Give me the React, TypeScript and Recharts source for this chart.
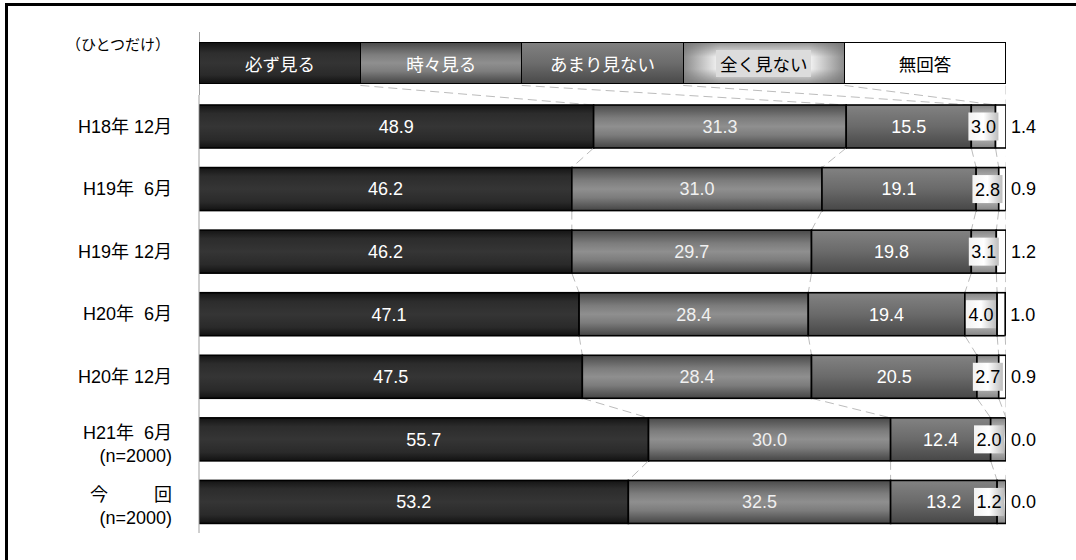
import React from 'react';
import { BarChart, Bar, XAxis, YAxis, Legend, LabelList } from 'recharts';

// rows (top to bottom)
const categories = ['H18年 12月', 'H19年  6月', 'H19年 12月', 'H20年  6月', 'H20年 12月', 'H21年  6月', '今　　  回'];
const subLabels = ['', '', '', '', '', '(n=2000)', '(n=2000)'];

const seriesNames = ['必ず見る', '時々見る', 'あまり見ない', '全く見ない', '無回答'];
const always = [48.9, 46.2, 46.2, 47.1, 47.5, 55.7, 53.2];
const sometimes = [31.3, 31.0, 29.7, 28.4, 28.4, 30.0, 32.5];
const rarely = [15.5, 19.1, 19.8, 19.4, 20.5, 12.4, 13.2];
const never = [3.0, 2.8, 3.1, 4.0, 2.7, 2.0, 1.2];
const noAnswer = [1.4, 0.9, 1.2, 1.0, 0.9, 0.0, 0.0];

const seriesValues = [always, sometimes, rarely, never, noAnswer];
const keys = ['s0', 's1', 's2', 's3', 's4'];

const data = categories.map((label, i) => {
  const row: any = { label };
  keys.forEach((k, s) => (row[k] = seriesValues[s][i]));
  return row;
});

const W = 1076;
const H = 560;
const MARGIN = { top: 95, right: 70, bottom: 27, left: 0 };
const Y_W = 199;
const BAR = 43;
const PLOT_LEFT = MARGIN.left + Y_W;
const PLOT_W = W - PLOT_LEFT - MARGIN.right;
const STEP = (H - MARGIN.top - MARGIN.bottom) / categories.length;
const FONT = '"Liberation Sans", Arial, "Noto Sans CJK JP", sans-serif';
const FS = 18;

const cumulative = (row: number, s: number) => {
  let t = 0;
  for (let k = 0; k <= s; k++) t += seriesValues[k][row];
  return t;
};

const fmt = (v: any) => Number(v).toFixed(1);

function makeShape(si: number) {
  return (p: any) => {
    const { x, y, width, height, index } = p;
    const bg = p.background;
    const left = bg && bg.width ? bg.x : PLOT_LEFT;
    const ppu = (bg && bg.width ? bg.width : PLOT_W) / 100;
    const cur = cumulative(index, si);
    const prev = index === 0 ? ((si + 1) * 100) / seriesNames.length : cumulative(index - 1, si);
    const gap = STEP - BAR;
    return (
      <g>
        <line
          x1={left + prev * ppu}
          y1={y - gap}
          x2={left + Math.min(cur, 100) * ppu}
          y2={y}
          stroke="#bcbcbc"
          strokeDasharray="9 5"
        />
        {width > 0 && (
          <rect x={x} y={y} width={width} height={height} fill={`url(#grad${si})`} stroke="#000" strokeWidth={1.6} />
        )}
      </g>
    );
  };
}

function NeverLabel(p: any) {
  const vb = p.viewBox ?? p;
  const { x, y, width, height } = vb;
  const cy = y + height / 2;
  // keep the label box inside the bar's right end
  const cx = Math.min(x + width / 2, PLOT_LEFT + PLOT_W - 17);
  return (
    <g>
      <rect x={cx - 15} y={cy - 14} width={30} height={28} fill="url(#labelBox)" />
      <text x={cx} y={cy} dy="0.36em" textAnchor="middle" fontSize={FS} fill="#000">
        {fmt(p.value)}
      </text>
    </g>
  );
}

function RowTick(props: any) {
  const { x, y, payload } = props;
  const i = categories.indexOf(payload.value);
  const sub = subLabels[i];
  if (!sub) {
    return (
      <text x={x} y={y} dy="0.36em" textAnchor="end" fontSize={FS} fill="#000" style={{ whiteSpace: 'pre' }}>
        {payload.value}
      </text>
    );
  }
  return (
    <g>
      <text x={x} y={y - 7} dy="0.36em" textAnchor="end" fontSize={FS} fill="#000" style={{ whiteSpace: 'pre' }}>
        {payload.value}
      </text>
      <text x={x} y={y + 16} dy="0.36em" textAnchor="end" fontSize={FS} fill="#000">
        {sub}
      </text>
    </g>
  );
}

const legendBg = [
  'linear-gradient(to bottom, #141414, #2e2e2e 25%, #343434 50%, #2a2a2a 80%, #121212)',
  'linear-gradient(to bottom, #4c4c4c, #7e7e7e 30%, #8f8f8f 50%, #7e7e7e 70%, #474747)',
  'linear-gradient(to bottom, #808080, #6c6c6c 50%, #4a4a4a)',
  'linear-gradient(to bottom, rgba(110,110,110,0.7), rgba(255,255,255,0) 35%, rgba(255,255,255,0) 65%, rgba(110,110,110,0.7)), linear-gradient(to right, #8c8c8c, #f6f6f6 22%, #f6f6f6 78%, #8c8c8c)',
  '#fff',
];
const legendText = ['#fff', '#fff', '#fff', '#000', '#000'];

function HeaderLegend() {
  return (
    <div style={{ display: 'flex', width: PLOT_W, height: 42, fontFamily: FONT }}>
      {seriesNames.map((n, i) => (
        <div
          key={n}
          style={{
            flex: 1,
            boxSizing: 'border-box',
            borderTop: '1.6px solid #000',
            borderBottom: '1.6px solid #000',
            borderRight: '1.6px solid #000',
            borderLeft: i === 0 ? '1.6px solid #000' : 'none',
            background: legendBg[i],
            color: legendText[i],
            display: 'flex',
            alignItems: 'center',
            justifyContent: 'center',
            fontSize: 17.5,
          }}
        >
          {i === 3 ? <span style={{ background: '#dcdcdc', padding: '1px 4px' }}>{n}</span> : n}
        </div>
      ))}
    </div>
  );
}

export default function App() {
  return (
    <div style={{ position: 'absolute', left: 0, top: 0, width: W, height: H, background: '#fff', fontFamily: FONT, overflow: 'hidden' }}>
      <div style={{ position: 'absolute', left: 5, top: 3, width: W, height: H, borderTop: '3px solid #000', borderLeft: '3px solid #000' }} />
      <div style={{ position: 'absolute', left: 0, top: 36, width: 170, textAlign: 'right', fontSize: 15, lineHeight: '18px' }}>
        （ひとつだけ）
      </div>
      <div style={{ position: 'absolute', left: PLOT_LEFT - 0.5, top: 32, width: 1, height: MARGIN.top - 32, background: '#a0a0a0' }} />
      <BarChart width={W} height={H} data={data} layout="vertical" margin={MARGIN} barSize={BAR}>
        <defs>
          <linearGradient id="grad0" x1="0" y1="0" x2="0" y2="1">
            <stop offset="0" stopColor="#141414" />
            <stop offset="0.2" stopColor="#2c2c2c" />
            <stop offset="0.5" stopColor="#353535" />
            <stop offset="0.8" stopColor="#2a2a2a" />
            <stop offset="1" stopColor="#121212" />
          </linearGradient>
          <linearGradient id="grad1" x1="0" y1="0" x2="0" y2="1">
            <stop offset="0" stopColor="#4a4a4a" />
            <stop offset="0.3" stopColor="#7c7c7c" />
            <stop offset="0.5" stopColor="#8f8f8f" />
            <stop offset="0.7" stopColor="#7c7c7c" />
            <stop offset="1" stopColor="#454545" />
          </linearGradient>
          <linearGradient id="grad2" x1="0" y1="0" x2="0" y2="1">
            <stop offset="0" stopColor="#828282" />
            <stop offset="0.5" stopColor="#6a6a6a" />
            <stop offset="1" stopColor="#474747" />
          </linearGradient>
          <linearGradient id="grad3" x1="0" y1="0" x2="0" y2="1">
            <stop offset="0" stopColor="#858585" />
            <stop offset="0.5" stopColor="#e4e4e4" />
            <stop offset="1" stopColor="#858585" />
          </linearGradient>
          <linearGradient id="grad4" x1="0" y1="0" x2="0" y2="1">
            <stop offset="0" stopColor="#ffffff" />
            <stop offset="1" stopColor="#ffffff" />
          </linearGradient>
          <linearGradient id="labelBox" x1="0" y1="0" x2="1" y2="0">
            <stop offset="0" stopColor="#f2f2f2" />
            <stop offset="0.5" stopColor="#ffffff" />
            <stop offset="1" stopColor="#bdbdbd" />
          </linearGradient>
        </defs>
        <XAxis type="number" domain={[0, 100]} allowDataOverflow hide />
        <YAxis
          type="category"
          dataKey="label"
          width={Y_W}
          axisLine={{ stroke: '#a0a0a0' }}
          tickLine={false}
          tickSize={0}
          tickMargin={27}
          tick={<RowTick />}
          interval={0}
        />
        <Legend
          layout="horizontal"
          verticalAlign="middle"
          align="center"
          wrapperStyle={{ top: 42, left: PLOT_LEFT, width: PLOT_W, height: 42 }}
          content={() => <HeaderLegend />}
        />
        {keys.map((k, si) => (
          <Bar key={k} dataKey={k} name={seriesNames[si]} stackId="a" shape={makeShape(si)} isAnimationActive={false}>
            {si < 3 && (
              <LabelList dataKey={k} position="center" fill={si === 1 ? '#f0f0f0' : '#fff'} fontSize={FS} formatter={fmt} />
            )}
            {si === 3 && <LabelList dataKey={k} content={<NeverLabel />} />}
            {si === 4 && <LabelList dataKey={k} position="right" offset={5} fill="#000" fontSize={FS} formatter={fmt} />}
          </Bar>
        ))}
      </BarChart>
    </div>
  );
}
